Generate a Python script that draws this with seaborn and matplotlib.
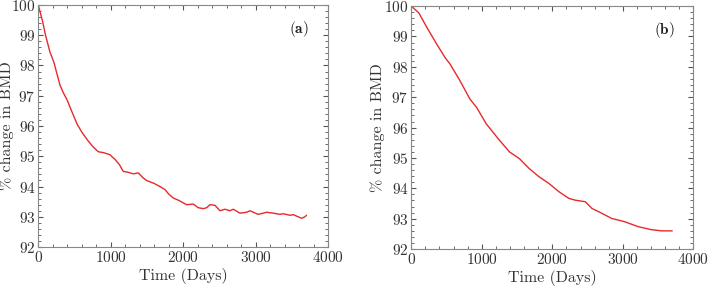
import pandas as pd
import numpy as np
import matplotlib.pyplot as plt
import seaborn as sns
from matplotlib.ticker import MultipleLocator

# panel (a): noisy decline levelling off near 93
days_a = [0, 60, 100, 160, 216, 260, 300, 345, 400, 450, 538, 600, 690, 760, 828, 900,
          990, 1010, 1058, 1120, 1172, 1240, 1310, 1380, 1440, 1494, 1600, 1678, 1747,
          1800, 1862, 1931, 2046, 2138, 2207, 2276, 2322, 2368, 2437, 2506, 2575, 2644,
          2690, 2782, 2874, 2920, 3034, 3103, 3149, 3241, 3333, 3379, 3471, 3517, 3586,
          3632, 3678, 3700]
bmd_a = [100.0, 99.45, 99.0, 98.45, 98.1, 97.7, 97.35, 97.1, 96.85, 96.55, 96.05, 95.8,
         95.5, 95.3, 95.15, 95.12, 95.05, 95.0, 94.9, 94.72, 94.5, 94.47, 94.42, 94.45,
         94.3, 94.2, 94.1, 94.0, 93.9, 93.75, 93.62, 93.55, 93.4, 93.42, 93.3, 93.27, 93.3,
         93.4, 93.38, 93.2, 93.25, 93.2, 93.25, 93.12, 93.15, 93.2, 93.08, 93.12, 93.15,
         93.12, 93.08, 93.1, 93.05, 93.07, 93.0, 92.95, 93.0, 93.05]

# panel (b): smoother decline
days_b = [0, 107, 224, 364, 481, 551, 692, 832, 925, 1065, 1252, 1393, 1533, 1673, 1813,
          1953, 2093, 2234, 2327, 2467, 2561, 2701, 2841, 3028, 3215, 3402, 3550, 3620,
          3700]
bmd_b = [100.0, 99.78, 99.29, 98.74, 98.3, 98.09, 97.54, 96.94, 96.67, 96.12, 95.58,
         95.2, 94.98, 94.65, 94.38, 94.16, 93.89, 93.67, 93.61, 93.56, 93.34, 93.18,
         93.01, 92.9, 92.74, 92.64, 92.6, 92.6, 92.6]

sns.set_style("ticks")
plt.rcParams['font.family'] = ['cmr10', 'DejaVu Serif']
plt.rcParams['axes.formatter.use_mathtext'] = True
plt.rcParams['mathtext.fontset'] = 'cm'

fig = plt.figure(figsize=(7.09, 2.91), dpi=100)
ax1 = fig.add_axes([0.054, 0.151, 0.409, 0.832])
ax2 = fig.add_axes([0.580, 0.144, 0.398, 0.835])

panels = [(ax1, days_a, bmd_a, 'a', -0.085), (ax2, days_b, bmd_b, 'b', -0.092)]
for ax, d, v, lab, ypos in panels:
    df = pd.DataFrame({'Time (Days)': d, 'BMD': v})
    sns.lineplot(data=df, x='Time (Days)', y='BMD', ax=ax, color='#e8292b', linewidth=1.0)
    ax.set_xlim(0, 4000)
    ax.set_ylim(92, 100)
    ax.xaxis.set_major_locator(MultipleLocator(1000))
    ax.xaxis.set_minor_locator(MultipleLocator(200))
    ax.yaxis.set_major_locator(MultipleLocator(1))
    ax.yaxis.set_minor_locator(MultipleLocator(0.2))
    ax.tick_params(which='both', direction='in', top=True, right=True, colors='#555555',
                   labelcolor='#333333', labelsize=11, pad=2)
    ax.tick_params(which='major', length=3.5)
    ax.tick_params(which='minor', length=2)
    for s in ax.spines.values():
        s.set_color('#888888')
        s.set_linewidth(0.8)
    ax.set_xlabel('Time (Days)', fontsize=11.5, color='#333333', labelpad=2)
    ax.set_ylabel('% change in BMD', fontsize=11.5, color='#333333')
    ax.yaxis.set_label_coords(ypos, 0.5)
    ax.text(3590, 99.2, r'$\mathbf{(' + lab + ')}$', fontsize=11, ha='center', va='center',
            color='#222222')

fig.savefig('out.png', dpi=100)
